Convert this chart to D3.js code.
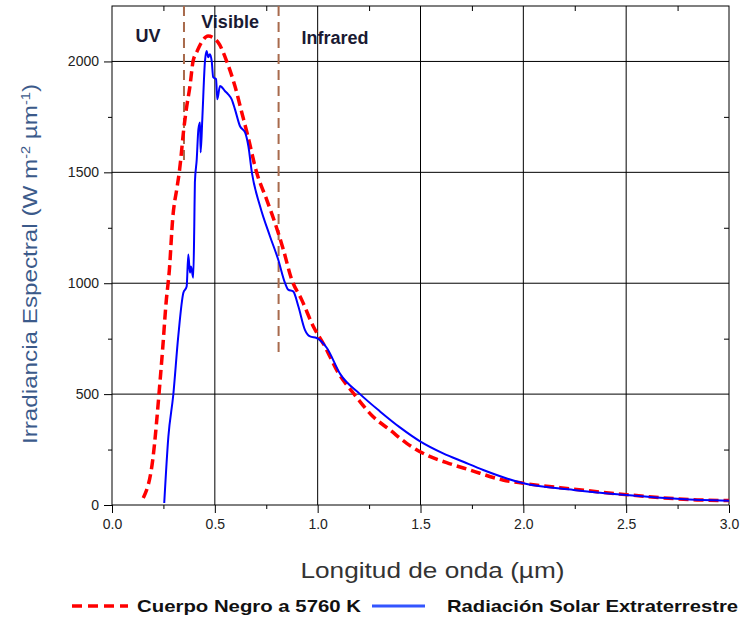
<!DOCTYPE html>
<html>
<head>
<meta charset="utf-8">
<script src="https://cdn.jsdelivr.net/npm/d3@7"></script>
<style>
  body { margin: 0; background: #fff; }
  text { font-family: "Liberation Sans", Arial, sans-serif; }
</style>
</head>
<body>
<div id="chart"></div>
<script>
// black body curve (5760 K)
const bbWave = [0.152, 0.198, 0.233, 0.246, 0.263, 0.279, 0.295, 0.317, 0.327, 0.334, 0.347, 0.363, 0.379, 0.394,
  0.412, 0.436, 0.467, 0.515, 0.558, 0.598, 0.631, 0.661, 0.703, 0.752, 0.792, 0.833, 0.874, 0.922, 0.979,
  1.035, 1.10, 1.173, 1.27, 1.352, 1.433, 1.53, 1.627, 1.74, 1.90, 2.0, 2.24, 2.52, 2.845, 3.0];
const bbValue = [32, 203, 551, 700, 912, 1061, 1290, 1436, 1500, 1556, 1678, 1795, 1888, 2000,
  2042, 2087, 2115, 2087, 2000, 1888, 1770, 1662, 1500, 1377, 1273, 1152, 1016, 926, 805,
  715, 596, 505, 398, 338, 278, 225, 191, 158, 113, 98, 72, 45, 23, 20];

// extraterrestrial solar spectrum
const solarWave = [0.254, 0.274, 0.298, 0.322, 0.347, 0.363, 0.371, 0.379, 0.384, 0.395, 0.400, 0.403, 0.412,
  0.420, 0.428, 0.431, 0.439, 0.452, 0.460, 0.468, 0.476, 0.485, 0.492, 0.506, 0.512, 0.525, 0.549, 0.565,
  0.582, 0.598, 0.622, 0.647, 0.663, 0.680, 0.720, 0.768, 0.808, 0.841, 0.857, 0.881, 0.906, 0.938, 0.963,
  0.995, 1.044, 1.11, 1.206, 1.303, 1.40, 1.50, 1.61, 1.708, 1.805, 2.0, 2.245, 2.5, 2.765, 3.0];
const solarValue = [9, 307, 497, 759, 957, 985, 1129, 1048, 1075, 1025, 1255, 1454, 1558,
  1694, 1725, 1590, 1739, 2000, 2047, 2019, 2033, 2000, 1929, 1920, 1829, 1889, 1867, 1852,
  1829, 1784, 1709, 1680, 1618, 1500, 1347, 1212, 1107, 1002, 971, 963, 896, 790, 760,
  753, 709, 590, 500, 422, 350, 286, 233, 195, 158, 98, 68, 45, 27, 19];

// region boundaries (UV / Visible / Infrared)
const boundWave = [0.35, 0.81];
const boundLow = [1548, 680];
const regionNames = ["UV", "Visible", "Infrared"];
const regionWave = [0.175, 0.574, 1.084];
const regionLevel = [2088, 2150, 2079];

const xTicks = [0, 0.5, 1, 1.5, 2, 2.5, 3];
const yTicks = [0, 500, 1000, 1500, 2000];

const W = 743, H = 617;
const margin = { top: 6, right: 14, bottom: 112, left: 112 },
  width = W - margin.left - margin.right,
  height = H - margin.top - margin.bottom;

const svg = d3.select("#chart").append("svg")
  .attr("width", W).attr("height", H);
const g = svg.append("g")
  .attr("transform", `translate(${margin.left}, ${margin.top})`);

const x = d3.scaleLinear().domain([0, 3]).range([0, width]);
const y = d3.scaleLinear().domain([0, 2250]).range([height, 0]);

// grid
g.selectAll(".vgrid").data(xTicks.slice(1, -1)).join("line")
  .attr("x1", d => x(d)).attr("x2", d => x(d))
  .attr("y1", 0).attr("y2", height)
  .attr("stroke", "#000").attr("stroke-width", 1);
g.selectAll(".hgrid").data(yTicks.slice(1)).join("line")
  .attr("x1", 0).attr("x2", width)
  .attr("y1", d => y(d)).attr("y2", d => y(d))
  .attr("stroke", "#000").attr("stroke-width", 1);

// frame
g.append("rect").attr("width", width).attr("height", height)
  .attr("fill", "none").attr("stroke", "#000").attr("stroke-width", 1);

// minor ticks inside on right and top
const minorY = d3.range(250, 2250, 500);
const minorX = d3.range(0.25, 3, 0.5);
g.append("g").attr("transform", `translate(${width},0)`)
  .call(d3.axisLeft(y).tickValues(minorY).tickSize(5).tickFormat(""))
  .call(a => a.select(".domain").remove());
g.append("g")
  .call(d3.axisBottom(x).tickValues(minorX).tickSize(5).tickFormat(""))
  .call(a => a.select(".domain").remove());

// left axis
g.append("g")
  .call(d3.axisLeft(y).tickValues(yTicks).tickSize(8).tickPadding(5).tickFormat(d3.format("d")))
  .call(a => a.select(".domain").remove())
  .call(a => a.selectAll("text").style("font-size", "14px").attr("fill", "#222"));
g.append("g")
  .call(d3.axisLeft(y).tickValues(minorY).tickSize(4).tickFormat(""))
  .call(a => a.select(".domain").remove());

// bottom axis
g.append("g").attr("transform", `translate(0,${height})`)
  .call(d3.axisBottom(x).tickValues(xTicks).tickSize(8).tickPadding(6).tickFormat(d3.format(".1f")))
  .call(a => a.select(".domain").remove())
  .call(a => a.selectAll("text").style("font-size", "14px").attr("fill", "#222"));
g.append("g").attr("transform", `translate(0,${height})`)
  .call(d3.axisBottom(x).tickValues(minorX).tickSize(4).tickFormat(""))
  .call(a => a.select(".domain").remove());

// region boundaries
g.selectAll(".bound").data(boundWave).join("line")
  .attr("x1", d => x(d)).attr("x2", d => x(d))
  .attr("y1", 0).attr("y2", (d, i) => y(boundLow[i]))
  .attr("stroke", "#a86a4c").attr("stroke-width", 2)
  .attr("stroke-dasharray", "10,6");

// curves
const line = d3.line().x(d => x(d[0])).y(d => y(d[1])).curve(d3.curveMonotoneX);
g.append("path")
  .datum(bbWave.map((w, i) => [w, bbValue[i]]))
  .attr("d", line)
  .attr("fill", "none").attr("stroke", "#ff0000").attr("stroke-width", 3.5)
  .attr("stroke-dasharray", "10,5");
g.append("path")
  .datum(solarWave.map((w, i) => [w, solarValue[i]]))
  .attr("d", line)
  .attr("fill", "none").attr("stroke", "#0000ff").attr("stroke-width", 2);

// region labels
g.selectAll(".region").data(regionNames).join("text")
  .attr("x", (d, i) => x(regionWave[i]))
  .attr("y", (d, i) => y(regionLevel[i]))
  .attr("text-anchor", "middle")
  .style("font-size", "18px").style("font-weight", "bold")
  .attr("fill", "#1a1a33")
  .text(d => d);

// axis titles
svg.append("text")
  .attr("x", margin.left + x(1.5) + 12).attr("y", 578)
  .attr("text-anchor", "middle")
  .attr("textLength", 264).attr("lengthAdjust", "spacingAndGlyphs")
  .style("font-size", "22px").attr("fill", "#333")
  .text("Longitud de onda (\u00b5m)");

const yl = svg.append("text")
  .attr("transform", `translate(37, 264) rotate(-90)`)
  .attr("text-anchor", "middle")
  .attr("textLength", 360).attr("lengthAdjust", "spacingAndGlyphs")
  .style("font-size", "20px").attr("fill", "#3b5a8a");
yl.append("tspan").text("Irradiancia Espectral (W m");
yl.append("tspan").attr("dy", -7).style("font-size", "12px").text("-2");
yl.append("tspan").attr("dy", 7).text(" \u00b5m");
yl.append("tspan").attr("dy", -7).style("font-size", "12px").text("-1");
yl.append("tspan").attr("dy", 7).text(")");

// legend
const legend = svg.append("g");
legend.append("line").attr("x1", 72).attr("x2", 128).attr("y1", 606).attr("y2", 606)
  .attr("stroke", "#ff0000").attr("stroke-width", 3.5).attr("stroke-dasharray", "10,6");
legend.append("text").attr("x", 137).attr("y", 612)
  .attr("textLength", 224).attr("lengthAdjust", "spacingAndGlyphs")
  .style("font-size", "17px").style("font-weight", "bold").attr("fill", "#111")
  .text("Cuerpo Negro a 5760 K");
legend.append("line").attr("x1", 372).attr("x2", 425).attr("y1", 606).attr("y2", 606)
  .attr("stroke", "#3355ff").attr("stroke-width", 3);
legend.append("text").attr("x", 447).attr("y", 612)
  .attr("textLength", 291).attr("lengthAdjust", "spacingAndGlyphs")
  .style("font-size", "17px").style("font-weight", "bold").attr("fill", "#111")
  .text("Radiación Solar Extraterrestre");
</script>
</body>
</html>
